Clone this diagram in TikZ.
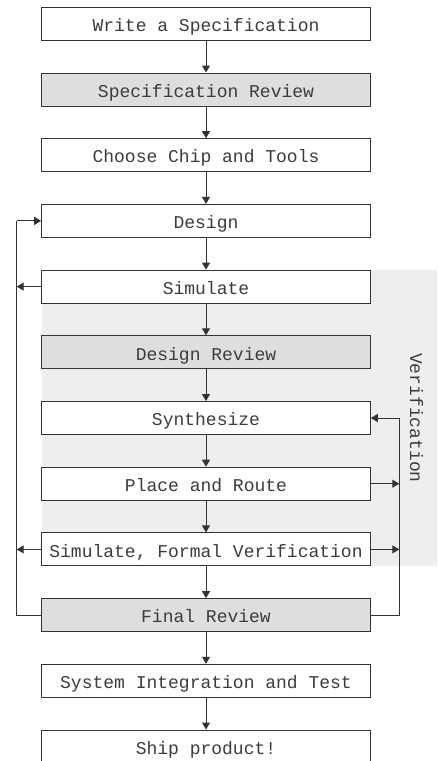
\documentclass[tikz,border=0pt]{standalone}
\usepackage{fontspec}
\setmonofont{Liberation Mono}
\usetikzlibrary{arrows.meta}
\definecolor{linegray}{HTML}{333333}
\definecolor{textgray}{HTML}{3C3C3C}
\definecolor{reviewfill}{HTML}{DEDEDE}
\definecolor{verifill}{HTML}{EEEEEE}
\tikzset{
  stepbox/.style={draw=linegray, line width=1pt, fill=white, minimum width=328.6pt,
    minimum height=33pt, inner sep=0pt, text=textgray,
    text height=15.4pt, text depth=0pt,
    font=\fontsize{18}{20}\selectfont\ttfamily},
  reviewbox/.style={stepbox, fill=reviewfill},
  flow/.style={draw=linegray, line width=1pt, -{Triangle[length=7pt,width=8pt]}},
  loopline/.style={draw=linegray, line width=1pt}
}
\begin{document}
\begin{tikzpicture}[x=1pt,y=-1pt]
  \useasboundingbox (0,0) rectangle (437,761);
  \clip (0,0) rectangle (437,761);
  % shaded verification region
  \fill[verifill] (41.7,270.1) rectangle (437,566);
  \node[rotate=-90, text=textgray, font=\fontsize{18}{20}\selectfont\ttfamily]
    (verlabel) at (416.5,418) {Verification};
  % process steps
  \node[stepbox]   (spec)    at (206,23.8)  {Write a Specification};
  \node[reviewbox] (specrev) at (206,89.5)  {Specification Review};
  \node[stepbox]   (chip)    at (206,155.2) {Choose Chip and Tools};
  \node[stepbox]   (design)  at (206,220.9) {Design};
  \node[stepbox]   (sim)     at (206,286.6) {Simulate};
  \node[reviewbox] (desrev)  at (206,352.3) {Design Review};
  \node[stepbox]   (synth)   at (206,418.0) {Synthesize};
  \node[stepbox]   (pnr)     at (206,483.7) {Place and Route};
  \node[stepbox]   (formal)  at (206,549.4) {Simulate, Formal Verification};
  \node[reviewbox] (final)   at (206,615.1) {Final Review};
  \node[stepbox]   (sysint)  at (206,680.8) {System Integration and Test};
  \node[stepbox]   (ship)    at (206,746.5) {Ship product!};
  % main flow
  \foreach \a/\b in {spec/specrev, specrev/chip, chip/design, design/sim,
                     sim/desrev, desrev/synth, synth/pnr, pnr/formal,
                     formal/final, final/sysint, sysint/ship}
    \draw[flow] (\a.south) -- (\b.north);
  % left feedback loop back to Design
  \coordinate (lbot) at (16.7,615.1);
  \coordinate (ltop) at (16.7,220.9);
  \draw[loopline] (final.west) -- (lbot) -- (ltop);
  \draw[flow] (ltop) -- (design.west);
  \draw[flow] (sim.west) -- (16.7,286.6);
  \draw[flow] (formal.west) -- (16.7,549.4);
  % right feedback loop back to Synthesize
  \coordinate (rbot) at (399.3,615.1);
  \coordinate (rtop) at (399.3,418.0);
  \draw[loopline] (final.east) -- (rbot) -- (rtop);
  \draw[flow] (rtop) -- (synth.east);
  \draw[flow] (pnr.east) -- (399.3,483.7);
  \draw[flow] (formal.east) -- (399.3,549.4);
\end{tikzpicture}
\end{document}
